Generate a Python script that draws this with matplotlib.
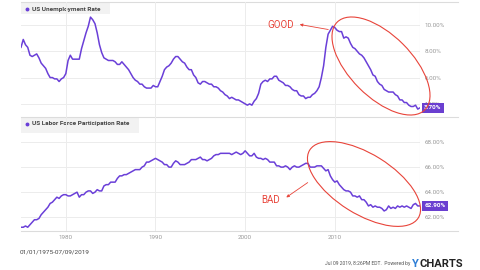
import matplotlib.pyplot as plt
from matplotlib.patches import Ellipse
import numpy as np

plt.rcParams['font.family'] = ['Roboto', 'DejaVu Sans']

# quarterly readings, Q1 1975 .. Q3 2019
unemployment = [
    8.3, 8.9, 8.5, 8.3, 7.7, 7.6, 7.7, 7.8, 7.5, 7.1, 6.9, 6.7, 6.3, 6.0, 6.0, 5.9,
    5.9, 5.7, 5.9, 6.0, 6.3, 7.3, 7.7, 7.4, 7.4, 7.4, 7.4, 8.2, 8.8, 9.4, 9.9, 10.6,
    10.4, 10.1, 9.4, 8.5, 7.9, 7.5, 7.4, 7.3, 7.3, 7.3, 7.2, 7.0, 7.0, 7.2, 7.0, 6.8,
    6.6, 6.3, 6.0, 5.8, 5.7, 5.5, 5.5, 5.3, 5.2, 5.2, 5.2, 5.4, 5.3, 5.3, 5.7, 6.1,
    6.6, 6.8, 6.9, 7.1, 7.4, 7.6, 7.6, 7.4, 7.2, 7.1, 6.8, 6.6, 6.6, 6.2, 6.0, 5.6,
    5.5, 5.7, 5.7, 5.6, 5.5, 5.5, 5.3, 5.3, 5.2, 5.0, 4.9, 4.7, 4.6, 4.4, 4.5, 4.4,
    4.3, 4.3, 4.2, 4.1, 4.0, 3.9, 4.0, 3.9, 4.2, 4.4, 4.8, 5.5, 5.7, 5.8, 5.7, 5.9,
    5.9, 6.1, 6.1, 5.8, 5.7, 5.6, 5.4, 5.4, 5.3, 5.1, 5.0, 5.0, 4.7, 4.6, 4.6, 4.4,
    4.5, 4.5, 4.7, 4.8, 5.0, 5.3, 6.0, 6.9, 8.3, 9.3, 9.6, 9.9, 9.8, 9.6, 9.5, 9.5,
    9.0, 9.1, 9.0, 8.6, 8.3, 8.2, 8.0, 7.8, 7.7, 7.5, 7.2, 6.9, 6.6, 6.2, 6.1, 5.7,
    5.5, 5.4, 5.1, 5.0, 4.9, 4.9, 4.9, 4.7, 4.6, 4.3, 4.3, 4.1, 4.1, 3.9, 3.8, 3.8,
    3.9, 3.6, 3.7,
]
participation = [
    61.2, 61.2, 61.3, 61.2, 61.4, 61.6, 61.8, 61.8, 61.9, 62.2, 62.4, 62.6, 62.8, 63.1, 63.2, 63.4,
    63.6, 63.5, 63.7, 63.8, 63.8, 63.7, 63.7, 63.8, 63.9, 64.0, 63.6, 63.8, 63.8, 64.0, 64.1, 64.1,
    63.9, 64.0, 64.2, 64.1, 64.1, 64.5, 64.6, 64.6, 64.8, 64.8, 64.8, 65.1, 65.3, 65.3, 65.4, 65.4,
    65.5, 65.6, 65.7, 65.8, 65.8, 65.8, 66.0, 66.1, 66.4, 66.4, 66.5, 66.6, 66.7, 66.6, 66.5, 66.4,
    66.2, 66.2, 66.0, 66.0, 66.3, 66.5, 66.4, 66.2, 66.2, 66.2, 66.3, 66.4, 66.6, 66.6, 66.6, 66.7,
    66.8, 66.6, 66.6, 66.5, 66.6, 66.7, 66.9, 67.0, 67.0, 67.1, 67.1, 67.1, 67.1, 67.1, 67.0, 67.1,
    67.2, 67.1, 67.0, 67.1, 67.3, 67.1, 66.9, 66.9, 67.1, 66.8, 66.7, 66.7, 66.6, 66.7, 66.6, 66.4,
    66.4, 66.4, 66.1, 66.1, 66.0, 66.0, 66.1, 66.0, 65.8, 66.0, 66.1, 66.0, 66.0, 66.1, 66.2, 66.3,
    66.3, 66.0, 66.0, 66.0, 66.1, 66.1, 66.1, 65.9, 65.7, 65.8, 65.3, 65.0, 64.8, 64.9, 64.6, 64.4,
    64.2, 64.1, 64.1, 64.0, 63.7, 63.7, 63.6, 63.7, 63.4, 63.4, 63.2, 62.9, 63.0, 62.8, 62.9, 62.8,
    62.8, 62.7, 62.5, 62.6, 62.9, 62.7, 62.8, 62.7, 62.9, 62.8, 62.9, 62.8, 62.9, 62.8, 62.7, 63.0,
    63.1, 62.9, 62.9,
]
years = 1975 + 0.25 * np.arange(len(unemployment))

unemp_ticks = [4, 6, 8, 10]
part_ticks = [62, 64, 66, 68]
year_ticks = [1980, 1990, 2000, 2010]

line_color = '#6a3fd8'
red = '#e8443a'
grid = '#ececec'

W, H = 480, 270
fig = plt.figure(figsize=(4.8, 2.7), dpi=100)


def box(x0, y0, x1, y1):
    return [x0 / W, 1 - y1 / H, (x1 - x0) / W, (y1 - y0) / H]


def pixel_axes(z):
    a = fig.add_axes([0, 0, 1, 1], zorder=z)
    a.set_xlim(0, W)
    a.set_ylim(H, 0)
    a.axis('off')
    return a


# frame and labels under the plots, hand notes on top
ov = pixel_axes(0)
ax1 = fig.add_axes(box(21, 2, 420, 117), zorder=1)
ax2 = fig.add_axes(box(21, 117, 420, 231), zorder=1)
notes = pixel_axes(2)

for ax, y, ticks, lim, last in [
        (ax1, unemployment, unemp_ticks, (3.0, 11.75), '3.70%'),
        (ax2, participation, part_ticks, (60.9, 70.0), '62.90%')]:
    ax.patch.set_alpha(0)
    ax.plot(years, y, color=line_color, lw=1.1)
    ax.set_xlim(1975, 2019.5)
    ax.set_ylim(*lim)
    ax.set_yticks(ticks)
    ax.set_xticks(year_ticks)
    ax.grid(True, color=grid, lw=0.7)
    ax.yaxis.tick_right()
    ax.set_yticklabels([f'{t:.2f}%' for t in ticks])
    ax.tick_params(length=0, labelsize=4.5, labelcolor='#999999', pad=3)
    for s in ax.spines.values():
        s.set_visible(False)
    ax.axvline(2019.5, color='#dddddd', lw=0.8)
    # value badge
    ax.annotate(last, xy=(1, (y[-1] - lim[0]) / (lim[1] - lim[0])), xycoords='axes fraction',
                xytext=(3, 0), textcoords='offset points', va='center', ha='left',
                fontsize=4.6, color='white', fontweight='bold',
                bbox=dict(boxstyle='square,pad=0.35', fc='#6a3fd0', ec='none'))

ax1.tick_params(labelbottom=False)

for yy in (2, 117, 231):
    ov.plot([21, 458], [yy, yy], color='#dcdcdc', lw=0.8)

# series labels
ov.add_patch(plt.Rectangle((21, 3), 89, 11, fc='#f2f2f2', ec='none'))
ov.add_patch(plt.Rectangle((21, 118), 118, 15, fc='#f2f2f2', ec='none'))
ov.plot([27], [9], 'o', color=line_color, ms=1.8)
ov.text(32, 9, 'US Unemployment Rate', fontsize=4.6, color='#444444', va='center',
        ha='left', fontweight='bold')
ov.plot([27], [124], 'o', color=line_color, ms=1.8)
ov.text(32, 124, 'US Labor Force Participation Rate', fontsize=4.6, color='#444444',
        va='center', ha='left', fontweight='bold')

ov.text(20, 252, '01/01/1975-07/09/2019', fontsize=4.6, color='#444444', va='center', ha='left')
ov.text(325, 264, 'Jul 09 2019, 8:26PM EDT.  Powered by', fontsize=3.6, color='#555555',
        va='center', ha='left')
ov.text(412, 264, 'Y', fontsize=8, color='#2f7fd6', fontweight='bold', va='center', ha='left')
ov.text(419, 264, 'CHARTS', fontsize=8, color='#222222', fontweight='bold', va='center', ha='left')

notes.add_patch(Ellipse((381, 66), 124, 62, angle=45, fill=False, ec=red, lw=0.8))
notes.add_patch(Ellipse((364, 184), 128, 60, angle=32, fill=False, ec=red, lw=0.8))

notes.text(281, 25, 'GOOD', color=red, fontsize=7, ha='center', va='center')
notes.annotate('', xy=(297, 24), xytext=(331, 30),
               arrowprops=dict(arrowstyle='-|>', color=red, lw=0.6, mutation_scale=4))
notes.text(271, 200, 'BAD', color=red, fontsize=7, ha='center', va='center')
notes.annotate('', xy=(284, 199), xytext=(310, 181),
               arrowprops=dict(arrowstyle='-|>', color=red, lw=0.6, mutation_scale=4))

fig.savefig('out.png', dpi=100)
